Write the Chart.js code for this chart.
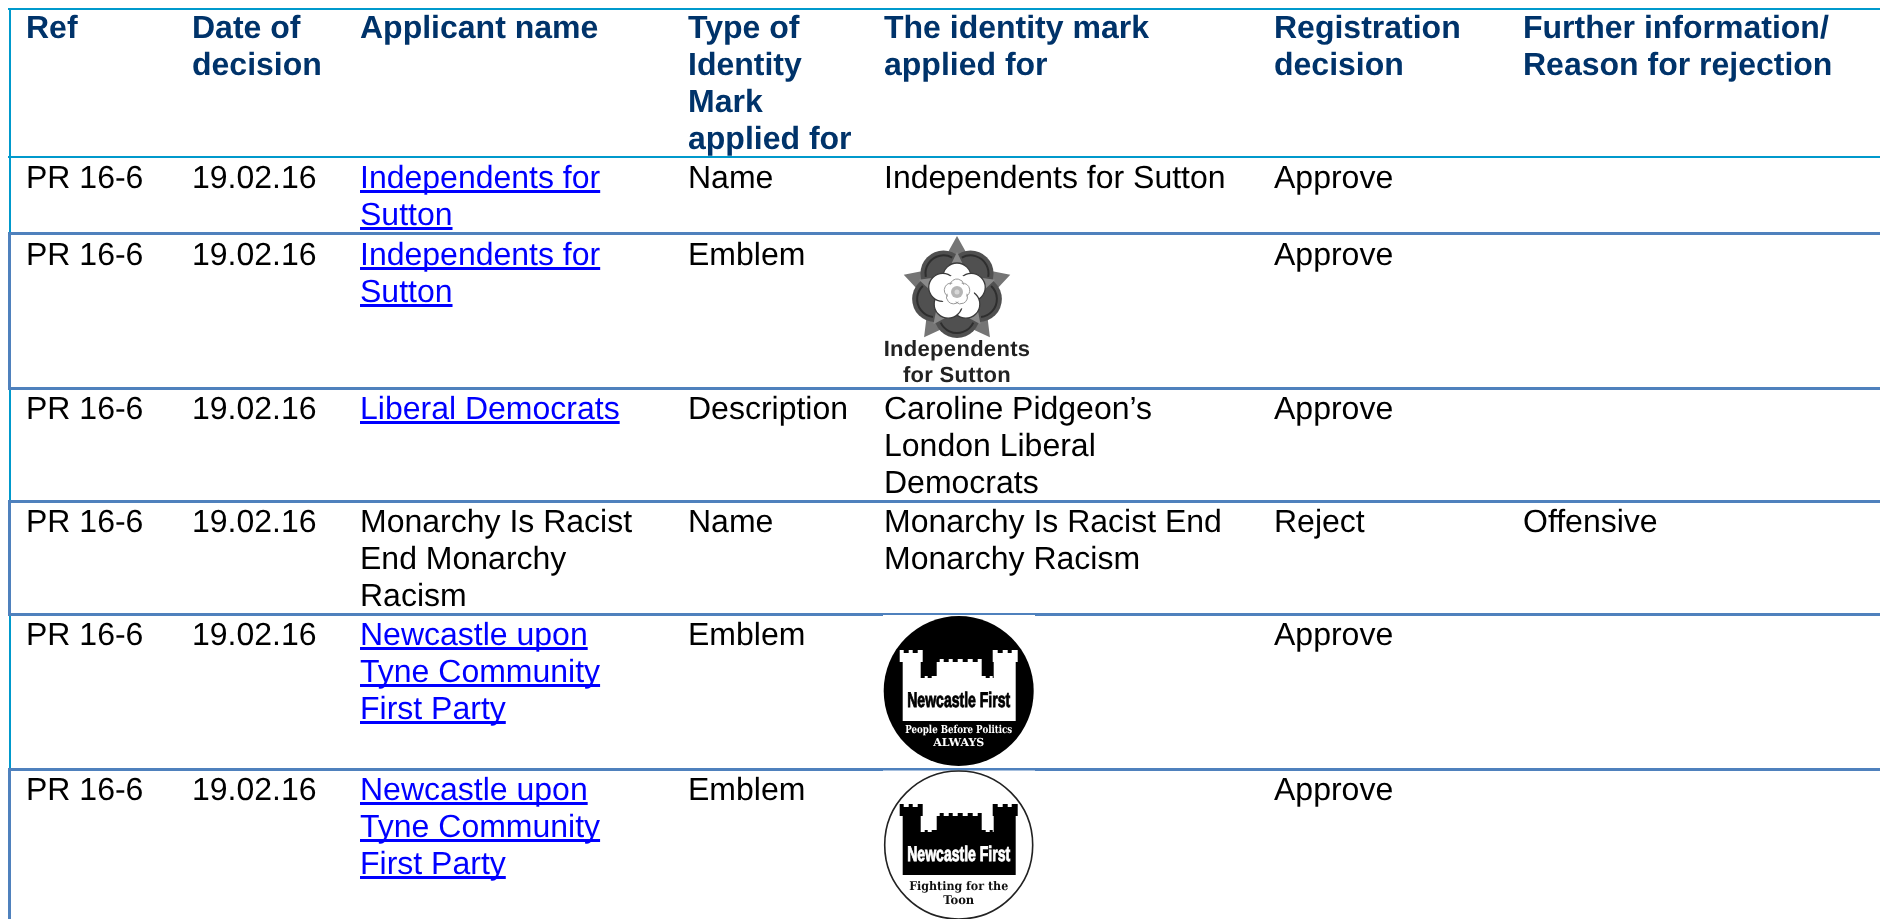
<!DOCTYPE html>
<html>
<head>
<meta charset="utf-8">
<style>html,body{margin:0;padding:0;background:#fff;overflow:hidden}canvas{display:block}</style>
<script src="https://cdn.jsdelivr.net/npm/chart.js@4/dist/chart.umd.min.js"></script>
</head>
<body>
<canvas id="c" width="1880" height="919"></canvas>
<script>
// ---- table content ----
const headers = ["Ref","Date of\ndecision","Applicant name","Type of\nIdentity\nMark\napplied for","The identity mark\napplied for","Registration\ndecision","Further information/\nReason for rejection"];
const refs = ["PR 16-6","PR 16-6","PR 16-6","PR 16-6","PR 16-6","PR 16-6"];
const dates = ["19.02.16","19.02.16","19.02.16","19.02.16","19.02.16","19.02.16"];
const applicants = ["Independents for\nSutton","Independents for\nSutton","Liberal Democrats","Monarchy Is Racist\nEnd Monarchy\nRacism","Newcastle upon\nTyne Community\nFirst Party","Newcastle upon\nTyne Community\nFirst Party"];
const applicantLinked = [true,true,true,false,true,true];
const markTypes = ["Name","Emblem","Description","Name","Emblem","Emblem"];
const marks = ["Independents for Sutton","","Caroline Pidgeon’s\nLondon Liberal\nDemocrats","Monarchy Is Racist End\nMonarchy Racism","",""];
const decisions = ["Approve","Approve","Approve","Reject","Approve","Approve"];
const reasons = ["","","","Offensive","",""];

// ---- layout (in axis units, 1 unit = 1 px) ----
const colX = [26,192,360,688,884,1274,1523];
const headerBase = 38, lineStep = 37;
const rowBase = [188,265,419,532,645,800];
const ruleY = [9,157,233.5,388.5,501.5,614.5,769.5];
const ruleColor = ["#0099cc","#0099cc","#4f81bd","#4f81bd","#4f81bd","#4f81bd","#4f81bd"];
const ruleWidth = [2,2,3,3,3,3,3];
const sideEdges = [[9,233,"#0099cc",10,2],[233,388,"#4f81bd",9.5,3],[388,501,"#0099cc",10,2],[501,614,"#4f81bd",9.5,3],[614,769,"#0099cc",10,2],[769,919,"#4f81bd",9.5,3]];

const datasets = [];
ruleY.forEach((y,i)=>datasets.push({data:[{x:8,y},{x:1880,y}],showLine:true,pointRadius:0,borderColor:ruleColor[i],borderWidth:ruleWidth[i],borderCapStyle:'butt'}));
sideEdges.forEach(s=>datasets.push({data:[{x:s[3],y:s[0]},{x:s[3],y:s[1]}],showLine:true,pointRadius:0,borderColor:s[2],borderWidth:s[4],borderCapStyle:'butt'}));

const BODY = "32px 'Liberation Sans', Arial, sans-serif";
const BOLD = "bold 32px 'Liberation Sans', Arial, sans-serif";

const tablePlugin = {
  id:'table',
  beforeDraw(chart){
    const c=chart.ctx; c.save(); c.fillStyle='#fff'; c.fillRect(0,0,chart.width,chart.height); c.restore();
  },
  afterDatasetsDraw(chart){
    const c=chart.ctx, X=chart.scales.x, Y=chart.scales.y;
    c.save();
    c.textRendering='geometricPrecision';
    c.textBaseline='alphabetic'; c.textAlign='left';
    const put=(text,col,base,font,color,link)=>{
      if(!text) return;
      c.font=font; c.fillStyle=color;
      text.split("\n").forEach((ln,i)=>{
        const px=X.getPixelForValue(colX[col]), py=Y.getPixelForValue(base+i*lineStep);
        c.fillText(ln,px,py);
        if(link){ c.fillRect(px,py+2,c.measureText(ln).width,3); }
      });
    };
    headers.forEach((h,i)=>put(h,i,headerBase,BOLD,'#00336a'));
    rowBase.forEach((b,r)=>{
      put(refs[r],0,b,BODY,'#000');
      put(dates[r],1,b,BODY,'#000');
      put(applicants[r],2,b,BODY,applicantLinked[r]?'#0000ff':'#000',applicantLinked[r]);
      put(markTypes[r],3,b,BODY,'#000');
      put(marks[r],4,b,BODY,'#000');
      put(decisions[r],5,b,BODY,'#000');
      put(reasons[r],6,b,BODY,'#000');
    });
    const pt=(vx,vy)=>[X.getPixelForValue(vx),Y.getPixelForValue(vy)];
    drawRose(c,...pt(957,292));
    drawLogo(c,...pt(958.7,691),615,767,true);
    drawLogo(c,...pt(958.7,845),770.5,919,false);
    c.restore();
  }
};

function polar(cx,cy,r,a){return [cx+r*Math.cos(a),cy+r*Math.sin(a)];}
function drawRose(c,cx,cy){
  const D=Math.PI/180;
  // sepals
  c.fillStyle='#757575'; c.beginPath();
  for(let i=0;i<5;i++){
    const a=-90*D+i*72*D;
    const p=polar(cx,cy,56,a), q=polar(cx,cy,30,a+36*D);
    i===0?c.moveTo(...p):c.lineTo(...p); c.lineTo(...q);
  }
  c.closePath(); c.fill();
  // dark outer petals
  c.fillStyle='#505050';
  for(let i=0;i<5;i++){
    const p=polar(cx,cy,23,-54*D+i*72*D);
    c.beginPath(); c.arc(p[0],p[1],23,0,7); c.fill();
  }
  c.beginPath(); c.arc(cx,cy,38,0,7); c.fill();
  // darker inner arcs of outer petals
  c.strokeStyle='#2e2e2e'; c.lineWidth=2;
  for(let i=0;i<5;i++){
    const a=-54*D+i*72*D, p=polar(cx,cy,23,a);
    c.beginPath(); c.arc(p[0],p[1],18,a-65*D,a+65*D); c.stroke();
  }
  // lighter wedges of the sepals over the ring
  c.fillStyle='#8a8a8a';
  for(let i=0;i<5;i++){
    const a=-90*D+i*72*D;
    c.beginPath(); c.moveTo(...polar(cx,cy,40,a)); c.lineTo(...polar(cx,cy,25,a-18*D)); c.lineTo(...polar(cx,cy,25,a+18*D)); c.closePath(); c.fill();
  }
  // white inner petals
  for(let i=0;i<5;i++){
    const p=polar(cx,cy,15,-90*D+i*72*D);
    c.beginPath(); c.arc(p[0],p[1],14,0,7); c.fillStyle='#fff'; c.fill();
    c.strokeStyle='#3a3a3a'; c.lineWidth=1.3; c.stroke();
  }
  c.fillStyle='#fff'; c.beginPath(); c.arc(cx,cy,17,0,7); c.fill();
  c.strokeStyle='#999'; c.lineWidth=1;
  for(let i=0;i<5;i++){
    const a=-90*D+i*72*D;
    c.beginPath(); c.arc(...polar(cx,cy,6,a),7,a-80*D,a+80*D); c.stroke();
  }
  c.fillStyle='#b5b5b5'; c.beginPath(); c.arc(cx,cy,6,0,7); c.fill();
  c.fillStyle='#d8d8d8'; c.beginPath(); c.arc(cx,cy,2.5,0,7); c.fill();
  // caption
  c.textAlign='center'; c.fillStyle='#222';
  c.font="bold 22px 'Liberation Sans', Arial, sans-serif";
  c.letterSpacing='0.3px';
  c.fillText("Independents",cx,356);
  c.fillText("for Sutton",cx,382);
  c.letterSpacing='0px';
  c.textAlign='left';
}
function castlePath(c,cx,cy){
  // outline in px offsets from the emblem centre
  const pts=[[-56,30],[-56,-29],[-59,-29],[-59,-41],[-55,-41],[-55,-38],[-50,-38],[-50,-41],[-46,-41],[-46,-38],[-41,-38],[-41,-41],[-36,-41],[-36,-29],[-38,-29],[-38,-13],[-34,-13],[-34,-15],[-31,-15],[-31,-13],[-27,-13],[-27,-15],[-22,-15],[-22,-29],[-19,-29],[-19,-32],[-15,-32],[-15,-29],[-10,-29],[-10,-32],[-6,-32],[-6,-29],[-1,-29],[-1,-32],[4,-32],[4,-29],[9,-29],[9,-32],[14,-32],[14,-29],[19,-29],[19,-32],[23,-32],[23,-15],[27,-15],[27,-13],[31,-13],[31,-15],[34,-15],[34,-13],[35,-13],[35,-29],[34,-29],[34,-41],[39,-41],[39,-38],[44,-38],[44,-41],[49,-41],[49,-38],[53,-38],[53,-41],[59,-41],[59,-29],[57,-29],[57,30]];
  c.beginPath();
  pts.forEach((p,i)=>i?c.lineTo(cx+p[0],cy+p[1]):c.moveTo(cx+p[0],cy+p[1]));
  c.closePath();
}
function drawLogo(c,cx,cy,top,bottom,filled){
  c.fillStyle='#fff'; c.fillRect(883,top,152,bottom-top);
  c.beginPath(); c.arc(cx,cy,filled?75:74,0,7);
  if(filled){c.fillStyle='#000';c.fill();}
  else{c.strokeStyle='#222';c.lineWidth=1.6;c.stroke();}
  castlePath(c,cx,cy);
  c.fillStyle=filled?'#fff':'#000'; c.fill();
  c.textAlign='center';
  const nm=filled?'#000':'#fff';
  c.font="bold 21px 'Liberation Sans Narrow','Liberation Sans',sans-serif";
  c.fillStyle=nm; c.strokeStyle=nm; c.lineWidth=0.9;
  c.fillText("Newcastle First",cx,cy+16,103);
  c.strokeText("Newcastle First",cx,cy+16,103);
  c.fillStyle=filled?'#fff':'#111';
  c.font="bold 11px 'DejaVu Serif',serif";
  if(filled){
    c.fillText("People Before Politics",cx,cy+42,107);
    c.fillText("ALWAYS",cx,cy+55,51);
  }else{
    c.font="bold 12px 'DejaVu Serif',serif";
    c.fillText("Fighting for the",cx,cy+45,99);
    c.fillText("Toon",cx,cy+59,31);
  }
  c.textAlign='left';
}

new Chart(document.getElementById('c'),{
  type:'scatter',
  data:{datasets},
  plugins:[tablePlugin],
  options:{
    responsive:false,animation:false,events:[],
    layout:{padding:0},
    clip:false,
    plugins:{legend:{display:false},tooltip:{enabled:false},title:{display:false}},
    scales:{
      x:{type:'linear',display:false,min:0,max:1880},
      y:{type:'linear',display:false,min:0,max:919,reverse:true}
    }
  }
});
</script>
</body>
</html>
